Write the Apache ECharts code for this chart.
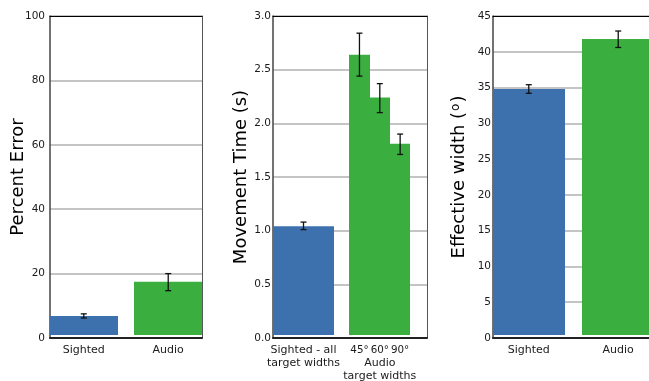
<!DOCTYPE html>
<html>
<head>
<meta charset="utf-8">
<script src="https://cdn.jsdelivr.net/npm/echarts@6/dist/echarts.min.js"></script>
<style>
html,body{margin:0;padding:0;background:#fff;}
#chart{width:649px;height:381px;}
</style>
</head>
<body>
<div id="chart"></div>
<script>
// ---------- DATA ----------
// Panel 1: Percent Error
const peCategories = ['Sighted', 'Audio'];
const peValues = [6.8, 17.5];
const peErrLow = [6.2, 14.7];
const peErrHigh = [7.5, 20.0];
const peTicks = [0, 20, 40, 60, 80, 100];

// Panel 2: Movement Time (s)
const mtCategories = ['Sighted - all\ntarget widths', '45°', '60°', '90°'];
const mtGroupLabel = 'Audio\ntarget widths';   // shown under the 60° bar
const mtValues = [1.04, 2.64, 2.24, 1.81];
const mtErrLow = [1.01, 2.44, 2.10, 1.71];
const mtErrHigh = [1.08, 2.84, 2.37, 1.90];
const mtTicks = [0.0, 0.5, 1.0, 1.5, 2.0, 2.5, 3.0];

// Panel 3: Effective width
const ewCategories = ['Sighted', 'Audio'];
const ewValues = [34.8, 41.8];
const ewErrLow = [34.2, 40.6];
const ewErrHigh = [35.4, 42.9];
const ewTicks = [0, 5, 10, 15, 20, 25, 30, 35, 40, 45];

// ---------- STYLE / LAYOUT ----------
const BLUE = '#3c71ae';
const GREEN = '#3aaf40';
const FONT = 'DejaVu Sans';
const TXT = '#1a1a1a';

// bar layout in axis units (not data)
const layouts = [
  { centers: [0, 1], widths: [0.8, 0.8], xmin: -0.4, xmax: 1.4, colors: [BLUE, GREEN] },
  { centers: [1.5, 4.25, 5.25, 6.25], widths: [3, 1, 1, 1], xmin: 0, xmax: 7.57, colors: [BLUE, GREEN, GREEN, GREEN], groupCenter: 5.25 },
  { centers: [0, 1], widths: [0.8, 0.8], xmin: -0.4, xmax: 1.4, colors: [BLUE, GREEN] }
];
const panels = [
  { cats: peCategories, vals: peValues, lo: peErrLow, hi: peErrHigh, ticks: peTicks, name: 'Percent Error', fmt: v => String(v), labelMargin: 5, nameGap: 23,
    grid: { left: 50, top: 16, width: 152, height: 322 } },
  { cats: mtCategories, vals: mtValues, lo: mtErrLow, hi: mtErrHigh, ticks: mtTicks, name: 'Movement Time (s)', fmt: v => v.toFixed(1), labelMargin: 2, nameGap: 23,
    grid: { left: 273, top: 16, width: 154, height: 322 }, group: mtGroupLabel },
  { cats: ewCategories, vals: ewValues, lo: ewErrLow, hi: ewErrHigh, ticks: ewTicks, name: 'Effective width ({o|o})', fmt: v => String(v), labelMargin: 2, nameGap: 24,
    grid: { left: 493, top: 16, width: 161, height: 322 } }
];

const grids = [], xAxes = [], yAxes = [], series = [];

panels.forEach((p, k) => {
  const L = layouts[k];
  grids.push(Object.assign({ containLabel: false, outerBoundsMode: 'none' }, p.grid));
  const tmin = p.ticks[0], tmax = p.ticks[p.ticks.length - 1];
  const interval = p.ticks[1] - p.ticks[0];
  const xi = xAxes.length, yi = yAxes.length;
  // bottom x axis with labels
  xAxes.push({
    type: 'value', gridIndex: k, position: 'bottom', min: L.xmin, max: L.xmax,
    axisLine: { show: true, onZero: false, lineStyle: { color: '#222', width: 2 } },
    axisTick: { show: false, customValues: L.centers },
    splitLine: { show: false },
    axisLabel: {
      customValues: L.centers, hideOverlap: false,
      formatter: (v) => {
        const i = L.centers.findIndex(c => Math.abs(c - v) < 1e-6);
        if (i < 0) return '';
        const t = p.cats[i];
        return t.indexOf('°') >= 0 ? '{d|' + t + '}' : t;
      },
      rich: { d: { fontFamily: FONT, fontSize: 10.3, color: TXT, lineHeight: 13 } },
      fontFamily: FONT, fontSize: 11, color: TXT, margin: 6, lineHeight: 13
    }
  });
  // top x axis (frame)
  xAxes.push({
    type: 'value', gridIndex: k, position: 'top', min: L.xmin, max: L.xmax,
    axisLine: { show: true, onZero: false, lineStyle: { color: '#000', width: 1 } },
    axisTick: { show: false }, axisLabel: { show: false }, splitLine: { show: false }
  });
  // group label axis (panel 2 only)
  if (p.group) {
    xAxes.push({
      type: 'value', gridIndex: k, position: 'bottom', min: L.xmin, max: L.xmax,
      axisLine: { show: false }, axisTick: { show: false }, splitLine: { show: false },
      axisLabel: {
        customValues: [L.groupCenter], hideOverlap: false,
        formatter: () => p.group,
        fontFamily: FONT, fontSize: 11, color: TXT, margin: 19, lineHeight: 13
      }
    });
  }
  // left y axis
  yAxes.push({
    type: 'value', gridIndex: k, position: 'left', min: tmin, max: tmax, interval: interval,
    name: p.name, nameLocation: 'middle', nameGap: p.nameGap, nameMoveOverlap: false,
    nameTextStyle: { fontFamily: FONT, fontSize: 18, color: '#000',
      rich: { o: { fontFamily: FONT, fontSize: 12, color: '#000', padding: [0, 1, 7, 1] } } },
    axisLine: { show: true, onZero: false, lineStyle: { color: '#444', width: 1.5 } },
    axisTick: { show: false },
    axisLabel: { formatter: p.fmt, fontFamily: FONT, fontSize: 10.5, color: TXT, margin: p.labelMargin },
    splitLine: { show: true, lineStyle: { color: '#b0b0b0', width: 1.5 } }
  });
  // right y axis (frame)
  yAxes.push({
    type: 'value', gridIndex: k, position: 'right', min: tmin, max: tmax, interval: interval,
    axisLine: { show: true, onZero: false, lineStyle: { color: '#555', width: 1 } },
    axisTick: { show: false }, axisLabel: { show: false }, splitLine: { show: false }
  });

  // bars
  series.push({
    type: 'custom', xAxisIndex: xi, yAxisIndex: yi, z: 3,
    encode: { x: 0, y: 1 },
    data: p.vals.map((v, i) => [L.centers[i], v]),
    renderItem: (params, api) => {
      const i = params.dataIndex;
      const x = api.value(0), v = api.value(1), w = L.widths[i];
      const p0 = api.coord([x - w / 2, 0]);
      const p1 = api.coord([x + w / 2, v]);
      const x0 = Math.round(p0[0]), x1 = Math.round(p1[0]);
      return {
        type: 'rect',
        shape: { x: x0, y: p1[1], width: x1 - x0, height: (p0[1] - 3) - p1[1] },
        style: { fill: L.colors[i] }
      };
    }
  });
  // error bars
  series.push({
    type: 'custom', xAxisIndex: xi, yAxisIndex: yi, z: 4,
    encode: { x: 0, y: [1, 2] },
    data: p.lo.map((lo, i) => [L.centers[i], lo, p.hi[i]]),
    renderItem: (params, api) => {
      const x = api.value(0);
      const a = api.coord([x, api.value(1)]);
      const b = api.coord([x, api.value(2)]);
      const cw = 3;
      const st = { stroke: '#111', lineWidth: 1.3 };
      return {
        type: 'group',
        children: [
          { type: 'line', shape: { x1: a[0], y1: a[1], x2: b[0], y2: b[1] }, style: st },
          { type: 'line', shape: { x1: a[0] - cw, y1: a[1], x2: a[0] + cw, y2: a[1] }, style: st },
          { type: 'line', shape: { x1: b[0] - cw, y1: b[1], x2: b[0] + cw, y2: b[1] }, style: st }
        ]
      };
    }
  });
});

const chart = echarts.init(document.getElementById('chart'), null, { renderer: 'canvas' });
chart.setOption({
  animation: false,
  backgroundColor: '#fff',
  grid: grids,
  xAxis: xAxes,
  yAxis: yAxes,
  series: series
});
</script>
</body>
</html>
